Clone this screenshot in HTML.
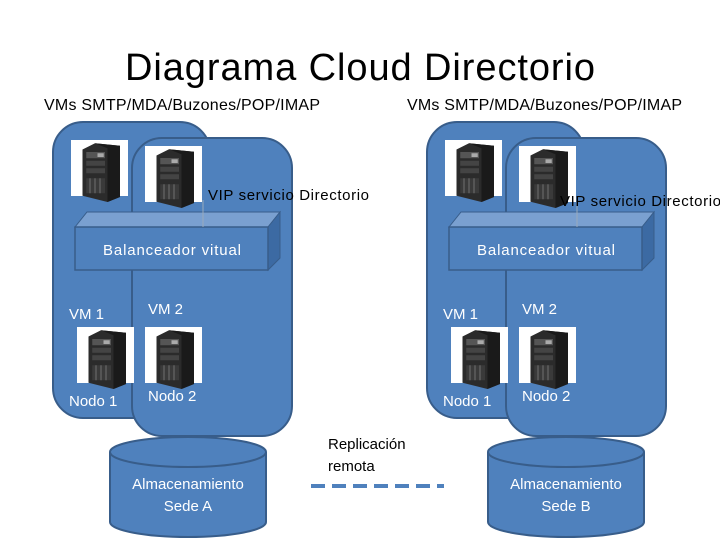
<!DOCTYPE html>
<html><head><meta charset="utf-8"><style>
html,body{margin:0;padding:0;background:#fff;width:720px;height:540px;overflow:hidden}
svg{display:block;font-family:"Liberation Sans",sans-serif}
</style></head><body>
<svg width="720" height="540" viewBox="0 0 720 540" xmlns="http://www.w3.org/2000/svg">
<defs>
<g id="srv">
<rect x="0" y="0" width="57" height="56" fill="#fff"/>
<g transform="translate(-6,-3) scale(1.25)">
<polygon points="14,10 24,5 44,7 44,48 34,52 14,47" fill="#2b2b2b"/>
<polygon points="24,5 44,7 44,48 34,52 34,9" fill="#1a1a1a"/>
<rect x="17" y="12" width="15" height="5" fill="#555"/>
<rect x="17" y="19" width="15" height="4" fill="#444"/>
<rect x="17" y="25" width="15" height="4" fill="#444"/>
<rect x="17" y="33" width="15" height="12" fill="#3a3a3a"/>
<line x1="20" y1="33" x2="20" y2="45" stroke="#666"/>
<line x1="24" y1="33" x2="24" y2="45" stroke="#666"/>
<line x1="28" y1="33" x2="28" y2="45" stroke="#666"/>
<rect x="26" y="13" width="5" height="3" fill="#aaa"/>
</g>
</g>
<g id="site">
<rect x="53" y="122" width="157" height="296" rx="30" fill="#4f81bd" stroke="#385d8a" stroke-width="2"/>
<rect x="132" y="138" width="160" height="298" rx="30" fill="#4f81bd" stroke="#385d8a" stroke-width="2"/>
<use href="#srv" x="71" y="140"/>
<use href="#srv" x="145" y="146"/>
<use href="#srv" x="77" y="327"/>
<use href="#srv" x="145" y="327"/>
<polygon points="75,227 87,212 280,212 268,227" fill="#7aa0d0" stroke="#385d8a" stroke-width="1"/>
<polygon points="268,227 280,212 280,258 268,270" fill="#3c6aa3" stroke="#385d8a" stroke-width="1"/>
<rect x="75" y="227" width="193" height="43" fill="#4f81bd" stroke="#385d8a" stroke-width="1.5"/>
<line x1="203" y1="200" x2="203" y2="227" stroke="#9ab" stroke-width="1"/>
<text x="103" y="255" font-size="15" fill="#fff" textLength="138">Balanceador  vitual</text>
<text x="69" y="319" font-size="15" fill="#fff">VM 1</text>
<text x="148" y="314" font-size="15" fill="#fff">VM 2</text>
<text x="69" y="406" font-size="15" fill="#fff">Nodo 1</text>
<text x="148" y="401" font-size="15" fill="#fff">Nodo 2</text>
</g>
</defs>
<text x="360" y="80" font-size="38" text-anchor="middle" fill="#000" textLength="470">Diagrama Cloud Directorio</text>
<text x="44" y="110" font-size="16" fill="#000" textLength="276">VMs SMTP/MDA/Buzones/POP/IMAP</text>
<text x="407" y="110" font-size="16" fill="#000" textLength="275">VMs SMTP/MDA/Buzones/POP/IMAP</text>
<use href="#site" x="0" y="0"/>
<use href="#site" x="374" y="0"/>
<text x="208" y="200" font-size="15" fill="#000" textLength="161">VIP servicio Directorio</text>
<text x="560" y="206" font-size="15" fill="#000" textLength="161">VIP servicio Directorio</text>
<g fill="#4f81bd" stroke="#385d8a" stroke-width="2">
<path d="M110,452 L110,522 A78,15 0 0 0 266,522 L266,452"/>
<ellipse cx="188" cy="452" rx="78" ry="15"/>
<path d="M488,452 L488,522 A78,15 0 0 0 644,522 L644,452"/>
<ellipse cx="566" cy="452" rx="78" ry="15"/>
</g>
<g font-size="15" fill="#fff" text-anchor="middle">
<text x="188" y="489">Almacenamiento</text>
<text x="188" y="511">Sede A</text>
<text x="566" y="489">Almacenamiento</text>
<text x="566" y="511">Sede B</text>
</g>
<text x="328" y="449" font-size="15" fill="#000">Replicación</text>
<text x="328" y="471" font-size="15" fill="#000">remota</text>
<line x1="311" y1="486" x2="444" y2="486" stroke="#4f81bd" stroke-width="4" stroke-dasharray="14,7"/>
</svg>
</body></html>
